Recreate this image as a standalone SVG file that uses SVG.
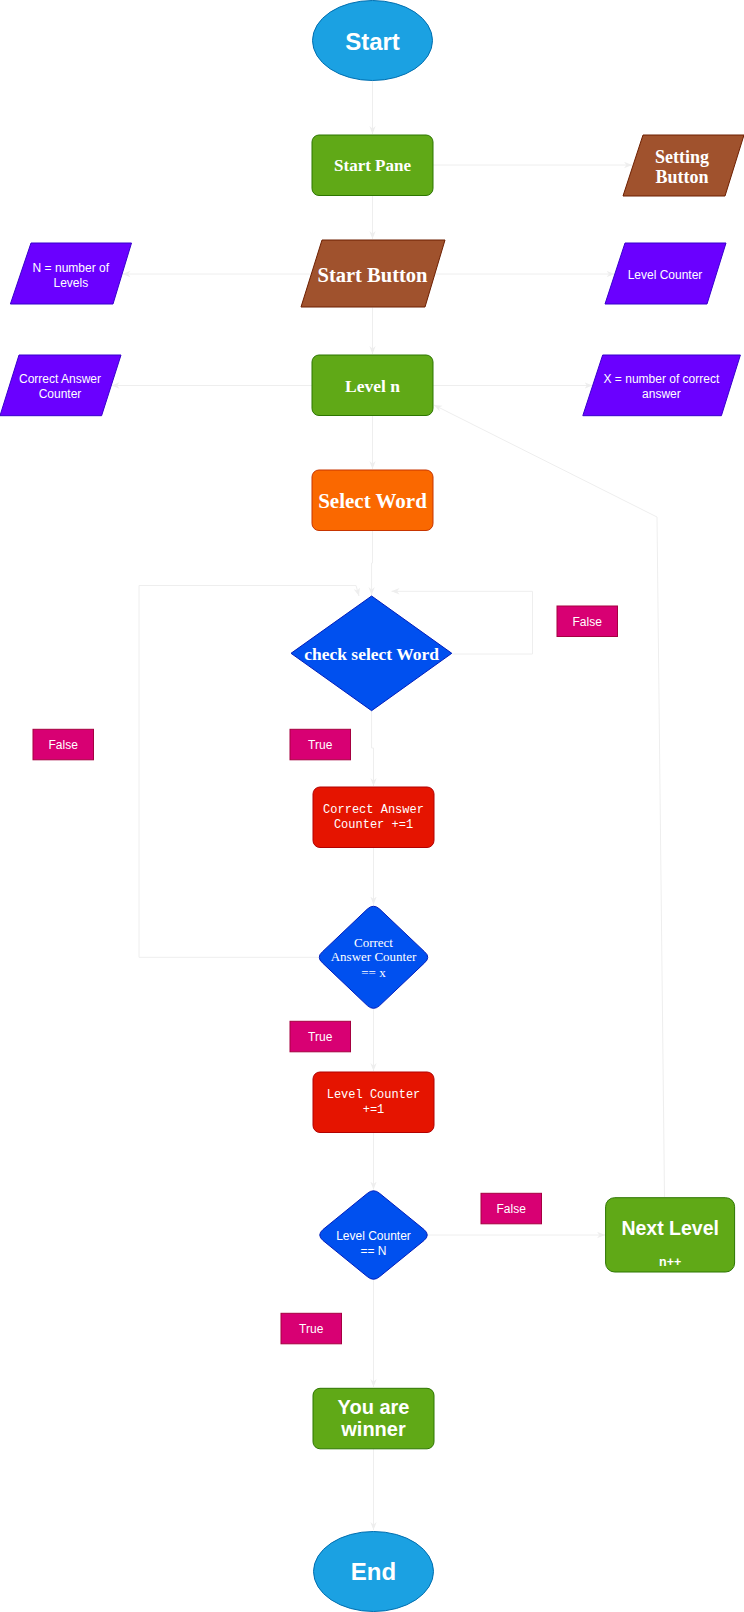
<svg xmlns="http://www.w3.org/2000/svg" width="744" height="1612" viewBox="0 0 744 1612">
<defs>
<marker id="arr" viewBox="0 0 10 10" refX="10" refY="5" markerWidth="8" markerHeight="8" markerUnits="userSpaceOnUse" orient="auto">
<path d="M0,1 L10,5 L0,9 L3,5 z" fill="#eeeeee"/>
</marker>
<style>
.conn{fill:none;stroke:#eeeeee;stroke-width:1;marker-end:url(#arr)}
.term{fill:#1ba1e2;stroke:#006eaf}
.green{fill:#60a917;stroke:#2d7600}
.brown{fill:#a0522d;stroke:#6d1f00}
.purple{fill:#6a00ff;stroke:#3700cc}
.orange{fill:#fa6800;stroke:#c73500}
.blue{fill:#0050ef;stroke:#001dbc}
.red{fill:#e51400;stroke:#b20000}
.pink{fill:#d80073;stroke:#a50040}
text{fill:#ffffff;text-anchor:middle}
.comic{font-family:"Liberation Sans","DejaVu Sans",sans-serif;font-size:12px}
.comicb{font-family:"Liberation Sans","DejaVu Sans",sans-serif;font-weight:bold;font-size:24px}
.serif{font-family:"Liberation Serif","DejaVu Serif",serif;font-weight:bold}
.serifr{font-family:"Liberation Serif","DejaVu Serif",serif;font-size:13px}
.mono{font-family:"Liberation Mono","DejaVu Sans Mono",monospace;font-size:12px}
.sansb{font-family:"Liberation Sans","DejaVu Sans",sans-serif;font-weight:bold}
</style>
</defs>

<g id="connectors">
<path class="conn" d="M372.5,81 L372.5,134"/>
<path class="conn" d="M433,165 L632,165"/>
<path class="conn" d="M372.5,196 L372.5,239"/>
<path class="conn" d="M311.3,274 L122.5,274"/>
<path class="conn" d="M435,274 L614.5,274"/>
<path class="conn" d="M372.5,307.5 L372.5,354"/>
<path class="conn" d="M312,385.5 L111.5,385.5"/>
<path class="conn" d="M433,385.5 L592.5,385.5"/>
<path class="conn" d="M372.5,416 L372.5,469"/>
<path class="conn" d="M372.5,531 L372.5,563 L371.6,563 L371.6,595"/>
<path class="conn" d="M371.6,711 L371.6,748 L373.5,748 L373.5,786"/>
<path class="conn" d="M452,654 L532.5,654 L532.5,591.3 L391.5,591.3"/>
<path class="conn" d="M373.5,848 L373.5,904.5"/>
<path class="conn" d="M318,957.3 L139,957.3 L139,585.5 L356,585.5 L359,596"/>
<path class="conn" d="M373.5,1009 L373.5,1071"/>
<path class="conn" d="M373.5,1133 L373.5,1189.5"/>
<path class="conn" d="M428,1235 L605,1235"/>
<path class="conn" d="M373.5,1279 L373.5,1387"/>
<path class="conn" d="M373.5,1449 L373.5,1530"/>
<path class="conn" d="M664.5,1197 L657,517 L434,405"/>
</g>

<g id="start">
<ellipse class="term" cx="372.5" cy="40.5" rx="60" ry="40"/>
<text class="comicb" x="372.5" y="49.5">Start</text>
</g>

<g id="start-pane">
<rect class="green" x="312" y="135" width="121" height="60.5" rx="7"/>
<text class="serif" x="372.5" y="171" font-size="17">Start Pane</text>
</g>

<g id="setting-button">
<polygon class="brown" points="643,135 744,135 725,196 623,196"/>
<text class="serif" x="682" y="162.7" font-size="18">Setting</text>
<text class="serif" x="682" y="183.3" font-size="18">Button</text>
</g>

<g id="start-button">
<polygon class="brown" points="322,240 445,240 425,307 301,307"/>
<text class="serif" x="372.5" y="282" font-size="20.5">Start Button</text>
</g>

<g id="n-levels">
<polygon class="purple" points="31,243 131.5,243 113,304 10.4,304"/>
<text class="comic" x="70.8" y="272">N = number of</text>
<text class="comic" x="70.8" y="287">Levels</text>
</g>

<g id="level-counter">
<polygon class="purple" points="625,243 726,243 707,304 605,304"/>
<text class="comic" x="665" y="279">Level Counter</text>
</g>

<g id="level-n">
<rect class="green" x="312" y="355" width="121" height="60.5" rx="7"/>
<text class="serif" x="372.5" y="391.7" font-size="17.5">Level n</text>
</g>

<g id="correct-answer-counter">
<polygon class="purple" points="19,355 121,355 101.6,415.7 0,415.7"/>
<text class="comic" x="60" y="383">Correct Answer</text>
<text class="comic" x="60" y="398">Counter</text>
</g>

<g id="x-correct">
<polygon class="purple" points="602.7,355 740.4,355 721.4,415.7 582.8,415.7"/>
<text class="comic" x="661.4" y="383">X = number of correct</text>
<text class="comic" x="661.4" y="398">answer</text>
</g>

<g id="select-word">
<rect class="orange" x="312" y="470" width="121" height="60.5" rx="7"/>
<text class="serif" x="372.5" y="508" font-size="21">Select Word</text>
</g>

<g id="check-select-word">
<polygon class="blue" points="371.6,596 451.8,653.3 371.6,710.7 291,653.3"/>
<text class="serif" x="371.6" y="659.5" font-size="17.5">check select Word</text>
</g>

<g id="label-false-1">
<rect class="pink" x="557" y="606" width="60.5" height="30.5"/>
<text class="comic" x="587.2" y="625.5" font-size="11.5">False</text>
</g>

<g id="label-false-2">
<rect class="pink" x="33" y="729.3" width="60.5" height="30.5"/>
<text class="comic" x="63.2" y="748.8" font-size="11.5">False</text>
</g>

<g id="label-true-1">
<rect class="pink" x="290" y="729.3" width="60.5" height="30.5"/>
<text class="comic" x="320.2" y="748.8" font-size="11.5">True</text>
</g>

<g id="cac-inc">
<rect class="red" x="313" y="787" width="121" height="60.5" rx="7"/>
<text class="mono" x="373.5" y="813.3">Correct Answer</text>
<text class="mono" x="373.5" y="828.3">Counter +=1</text>
</g>

<g id="cac-eq-x">
<path class="blue" d="M367.4,909 Q373.5,903.5 379.6,909 L424.5,951.7 Q431,957.3 424.5,962.9 L379.6,1005.6 Q373.5,1011.1 367.4,1005.6 L322.5,962.9 Q316,957.3 322.5,951.7 Z"/>
<text class="serifr" x="373.5" y="946.8">Correct</text>
<text class="serifr" x="373.5" y="961.4">Answer Counter</text>
<text class="serifr" x="373.5" y="976.8">== x</text>
</g>

<g id="label-true-2">
<rect class="pink" x="290" y="1021.3" width="60.5" height="30.5"/>
<text class="comic" x="320.2" y="1040.8" font-size="11.5">True</text>
</g>

<g id="lc-inc">
<rect class="red" x="313" y="1072" width="121" height="60.5" rx="7"/>
<text class="mono" x="373.5" y="1098">Level Counter</text>
<text class="mono" x="373.5" y="1113.3">+=1</text>
</g>

<g id="lc-eq-n">
<path class="blue" d="M367.2,1193.5 Q373.5,1188 379.8,1193.5 L424,1229.5 Q430.5,1235 424,1240.5 L379.8,1276.5 Q373.5,1282 367.2,1276.5 L323,1240.5 Q316.5,1235 323,1229.5 Z"/>
<text class="comic" x="373.5" y="1240.2">Level Counter</text>
<text class="comic" x="373.5" y="1255">== N</text>
</g>

<g id="label-false-3">
<rect class="pink" x="481" y="1193.3" width="60.5" height="30.5"/>
<text class="comic" x="511.2" y="1212.8" font-size="11.5">False</text>
</g>

<g id="next-level">
<rect class="green" x="605.6" y="1197.7" width="129" height="74.3" rx="9"/>
<text class="sansb" x="670.2" y="1234.5" font-size="19.5">Next Level</text>
<text class="sansb" x="670.2" y="1266" font-size="12.5">n++</text>
</g>

<g id="label-true-3">
<rect class="pink" x="281" y="1313.3" width="60.5" height="30.5"/>
<text class="comic" x="311.2" y="1332.8" font-size="11.5">True</text>
</g>

<g id="winner">
<rect class="green" x="313" y="1388.3" width="121" height="60.5" rx="7"/>
<text class="sansb" x="373.5" y="1414.3" font-size="20">You are</text>
<text class="sansb" x="373.5" y="1436.3" font-size="20">winner</text>
</g>

<g id="end">
<ellipse class="term" cx="373.5" cy="1571.5" rx="60" ry="40"/>
<text class="comicb" x="373.5" y="1580">End</text>
</g>
</svg>
